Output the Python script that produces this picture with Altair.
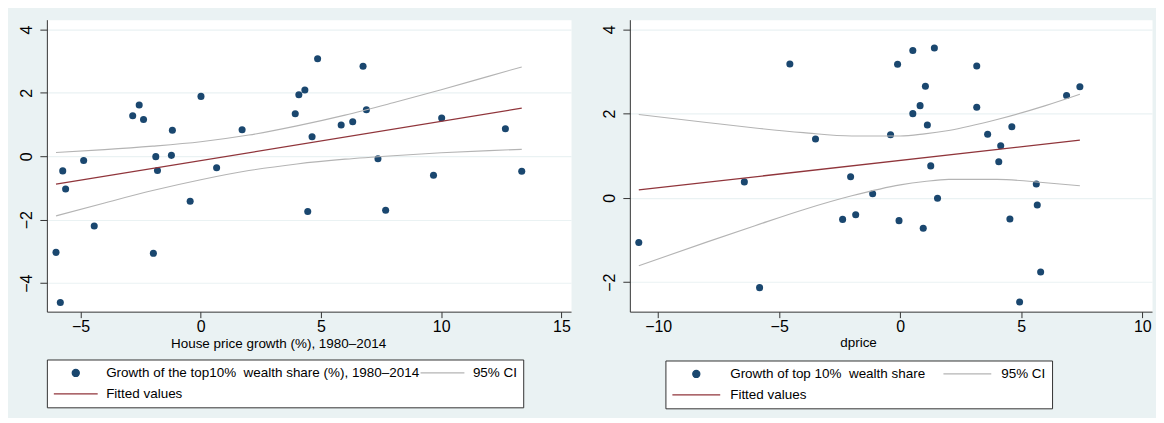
import altair as alt
import pandas as pd

NAVY = "#1A476F"
MAROON = "#90353B"
CIGRAY = "#B4B4B4"
BG = "#EAF2F3"
FONT = "Liberation Sans"

# ---------- left panel data ----------
hp_x = [-6.02, -5.84, -5.74, -5.62, -4.87, -4.43, -2.83, -2.56, -2.38, -1.97, -1.87, -1.80,
        -1.22, -1.18, -0.44, 0.01, 0.66, 1.72, 3.93, 4.08, 4.33, 4.86, 4.63, 4.45, 5.84,
        6.32, 6.75, 6.89, 7.37, 7.69, 9.68, 10.02, 12.67, 13.35]
hp_y = [-3.03, -4.61, -0.46, -1.03, -0.13, -2.20, 1.28, 1.62, 1.16, -3.06, -0.01, -0.45,
        0.03, 0.82, -1.42, 1.89, -0.36, 0.84, 1.34, 1.94, 2.09, 3.08, 0.62, -1.74, 0.99,
        1.09, 2.84, 1.47, -0.08, -1.70, -0.60, 1.21, 0.87, -0.47]
hp_fit_x = [-6.02, 13.35]
hp_fit_y = [-0.88, 1.52]
hp_ci_x = [-6.02, -4, -2, 0, 2, 4, 6, 8, 10, 12, 13.35]
hp_ci_hi = [0.12, 0.21, 0.32, 0.46, 0.67, 0.96, 1.30, 1.69, 2.10, 2.53, 2.82]
hp_ci_lo = [-1.88, -1.47, -1.08, -0.74, -0.45, -0.24, -0.09, 0.02, 0.11, 0.18, 0.22]
hp_labels = ["Growth of the top10%\u00a0 wealth share (%), 1980\u20132014", "95% CI", "Fitted values"]
hp_xticks = [-5, 0, 5, 10, 15]
hp_yticks = [-4, -2, 0, 2, 4]

# ---------- right panel data ----------
dp_x = [-10.80, -6.44, -5.81, -4.56, -3.50, -2.38, -2.05, -1.84, -1.14, -0.40, -0.11, -0.05,
        0.52, 0.52, 0.82, 0.95, 1.04, 1.12, 1.26, 1.41, 1.54, 3.16, 3.16, 3.61, 4.07, 4.15,
        4.53, 4.61, 4.93, 5.62, 5.66, 5.80, 6.87, 7.42]
dp_y = [-1.06, 0.38, -2.13, 3.18, 1.40, -0.51, 0.50, -0.40, 0.10, 1.50, 3.17, -0.54,
        3.50, 2.00, 2.19, -0.72, 2.65, 1.73, 0.76, 3.56, -0.01, 3.13, 2.15, 1.51, 0.86, 1.24,
        -0.50, 1.69, -2.47, 0.33, -0.17, -1.76, 2.43, 2.64]
dp_fit_x = [-10.8, 7.42]
dp_fit_y = [0.19, 1.37]
dp_ci_x = [-10.8, -8, -6, -4, -2, 0, 1, 2, 4, 6, 7.42]
dp_ci_hi = [1.98, 1.79, 1.66, 1.55, 1.47, 1.47, 1.52, 1.60, 1.86, 2.19, 2.46]
dp_ci_lo = [-1.61, -1.05, -0.66, -0.28, 0.05, 0.31, 0.39, 0.44, 0.44, 0.36, 0.29]
dp_labels = ["Growth of top 10%\u00a0 wealth share", "95% CI", "Fitted values"]
dp_xticks = [-10, -5, 0, 5, 10]
dp_yticks = [-2, 0, 2, 4]


def panel(px, py, fx, fy, cx, chi, clo, labels, xdom, xvals, ydom, yvals, xtitle,
          width, stroke_len, legend_x, legend_y, col_pad, label_off, title_x, title_y):
    pts = pd.DataFrame({"x": px, "y": py, "series": labels[0]})
    fit = pd.DataFrame({"x": fx, "y": fy, "series": labels[2]})
    ci = pd.concat([
        pd.DataFrame({"x": cx, "y": chi, "series": labels[1], "bound": "upper"}),
        pd.DataFrame({"x": cx, "y": clo, "series": labels[1], "bound": "lower"}),
    ])
    xs = alt.Scale(domain=xdom, nice=False, zero=False)
    ys = alt.Scale(domain=ydom, nice=False, zero=False)
    xax = alt.Axis(values=xvals, title=xtitle, grid=False, tickSize=6, labelPadding=1,
                   labelFlush=False, labelOverlap=False, titleX=title_x, titleY=title_y,
                   titleAlign="center", titleBaseline="middle")
    yax = alt.Axis(values=yvals, title=None, grid=True, tickSize=7, labelAngle=270,
                   labelAlign="center", labelBaseline="alphabetic", labelPadding=8,
                   labelOverlap=False)
    leg = alt.Legend(title=None, orient="none", legendX=legend_x, legendY=legend_y,
                     direction="horizontal", columns=2, columnPadding=col_pad,
                     rowPadding=6, padding=6, clipHeight=15,
                     strokeColor="#333333", fillColor="white", labelFont=FONT,
                     labelFontSize=13.5, labelColor="black", labelLimit=600,
                     labelOffset=label_off, symbolStrokeWidth=1.3,
                     symbolFillColor=NAVY, symbolStrokeColor=NAVY)
    color = alt.Color("series:N", scale=alt.Scale(domain=labels, range=[NAVY, CIGRAY, MAROON]),
                      legend=leg)
    shape = alt.Shape("series:N", scale=alt.Scale(domain=labels, range=["circle", "stroke", "stroke"]),
                      legend=leg)
    size = alt.Size("series:N", scale=alt.Scale(type="ordinal", domain=labels,
                                                range=[50, stroke_len ** 2, stroke_len ** 2]),
                    legend=leg)
    pts_layer = alt.Chart(pts).mark_point(filled=True, opacity=1).encode(
        x=alt.X("x:Q", scale=xs, axis=xax),
        y=alt.Y("y:Q", scale=ys, axis=yax),
        color=color, shape=shape, size=size,
    )
    ci_layer = alt.Chart(ci).mark_line(strokeWidth=1.1, interpolate="monotone").encode(
        x="x:Q", y="y:Q", color=color, detail="bound:N",
    )
    fit_layer = alt.Chart(fit).mark_line(strokeWidth=1.3).encode(
        x="x:Q", y="y:Q", color=color,
    )
    return alt.layer(pts_layer, ci_layer, fit_layer).properties(width=width, height=293)


left = panel(hp_x, hp_y, hp_fit_x, hp_fit_y, hp_ci_x, hp_ci_hi, hp_ci_lo, hp_labels,
             [-6.4, 15.4], hp_xticks, [-4.9, 4.31], hp_yticks,
             "House price growth (%), 1980\u20132014", 526, 44, 0, 341, -10, 7.5, 232, 32)
right = panel(dp_x, dp_y, dp_fit_x, dp_fit_y, dp_ci_x, dp_ci_hi, dp_ci_lo, dp_labels,
              [-11.17, 10.4], dp_xticks, [-2.7, 4.23], dp_yticks,
              "dprice", 524, 48, 35.7, 342, 17, 9, 229, 31)

chart = alt.hconcat(left, right, spacing=29).resolve_scale(
    color="independent", shape="independent", size="independent",
    x="independent", y="independent",
).properties(
    background=BG,
    padding={"left": 10, "top": 10, "right": 3, "bottom": 8},
).configure_view(
    fill="white", stroke="transparent",
).configure_axis(
    domainColor="#333333", tickColor="#333333", labelFont=FONT, labelFontSize=16,
    labelColor="black", gridColor=BG, gridWidth=1.2, titleFont=FONT, titleFontSize=13.5,
    titleFontWeight="normal", titleColor="black", domainWidth=1, tickWidth=1,
)

chart.save("out.html", embed_options={"renderer": "svg", "actions": False})
